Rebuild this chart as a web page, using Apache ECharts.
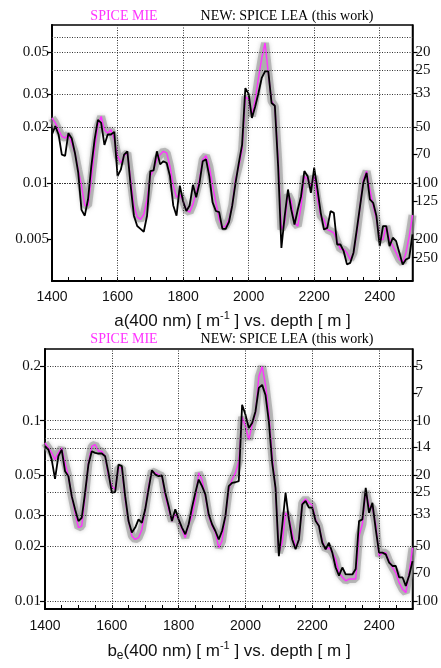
<!DOCTYPE html>
<html>
<head>
<meta charset="utf-8">
<script src="https://cdn.jsdelivr.net/npm/echarts@6/dist/echarts.min.js"></script>
<style>
  html, body { margin: 0; padding: 0; background: #fff; }
  #chart { width: 441px; height: 668px; }
</style>
</head>
<body>
<div id="chart"></div>
<script>
// depth samples [m]
const depth = [
  1400, 1410, 1420, 1430, 1440, 1450, 1460, 1470, 1480, 1490,
  1500, 1510, 1520, 1530, 1540, 1550, 1560, 1570, 1580, 1590,
  1600, 1610, 1620, 1630, 1640, 1650, 1660, 1670, 1680, 1690,
  1700, 1710, 1720, 1730, 1740, 1750, 1760, 1770, 1780, 1790,
  1800, 1810, 1820, 1830, 1840, 1850, 1860, 1870, 1880, 1890,
  1900, 1910, 1920, 1930, 1940, 1950, 1960, 1970, 1980, 1990,
  2000, 2010, 2020, 2030, 2040, 2050, 2060, 2070, 2080, 2090,
  2100, 2110, 2120, 2130, 2140, 2150, 2160, 2170, 2180, 2190,
  2200, 2210, 2220, 2230, 2240, 2250, 2260, 2270, 2280, 2290,
  2300, 2310, 2320, 2330, 2340, 2350, 2360, 2370, 2380, 2390,
  2400, 2410, 2420, 2430, 2440, 2450, 2460, 2470, 2480, 2490,
  2500
]

// a(400 nm) [1/m]
const absMie = [
  0.0223, 0.0210, 0.0193, 0.0178, 0.0174, 0.0183, 0.0164, 0.0145, 0.0118, 0.0097,
  0.0076, 0.0076, 0.0105, 0.0151, 0.0202, 0.0227, 0.0193, 0.0185, 0.0193, 0.0171,
  0.0140, 0.0128, 0.0140, 0.0145, 0.0105, 0.0076, 0.0066, 0.0064, 0.0068, 0.0082,
  0.0109, 0.0118, 0.0134, 0.0142, 0.0148, 0.0145, 0.0123, 0.0097, 0.0084, 0.0087,
  0.0080, 0.0072, 0.0070, 0.0077, 0.0089, 0.0105, 0.0134, 0.0140, 0.0123, 0.0097,
  0.0079, 0.0064, 0.0058, 0.0059, 0.0064, 0.0076, 0.0105, 0.0123, 0.0150, 0.0290,
  0.0280, 0.0228, 0.0279, 0.0365, 0.0466, 0.0561, 0.0388, 0.0274, 0.0257, 0.0134,
  0.00565, 0.00614, 0.0087, 0.0080, 0.00614, 0.00589, 0.00753, 0.0109, 0.01045, 0.00964,
  0.0109, 0.00818, 0.00667, 0.0064, 0.00565, 0.00554, 0.00543, 0.0049, 0.00443, 0.00443,
  0.00425, 0.00391, 0.00425, 0.00543, 0.00753, 0.01045, 0.0116, 0.00925, 0.00753, 0.0064,
  0.0050, 0.0050, 0.00589, 0.0050, 0.00461, 0.00425, 0.00391, 0.00375, 0.00425, 0.0052,
  0.00674
]
const absLea = [
  0.0182, 0.0202, 0.0182, 0.0142, 0.0140, 0.0185, 0.0174, 0.0145, 0.0114, 0.0072,
  0.0067, 0.0082, 0.0123, 0.0171, 0.0218, 0.0210, 0.0160, 0.0182, 0.0182, 0.0188,
  0.0109, 0.0118, 0.0142, 0.0148, 0.0097, 0.0067, 0.0059, 0.0057, 0.0055, 0.0067,
  0.0116, 0.0117, 0.0148, 0.0126, 0.0131, 0.0128, 0.0109, 0.0076, 0.0067, 0.0097,
  0.0080, 0.0071, 0.0076, 0.0098, 0.0084, 0.0100, 0.0131, 0.0134, 0.0109, 0.0079,
  0.0071, 0.0070, 0.0057, 0.0057, 0.0062, 0.0076, 0.0100, 0.0128, 0.0160, 0.0322,
  0.0300, 0.0223, 0.0257, 0.0303, 0.0365, 0.0396, 0.0396, 0.0268, 0.0259, 0.0123,
  0.00451, 0.00667, 0.00925, 0.00723, 0.00601, 0.00723, 0.00852, 0.0116, 0.0109, 0.00888,
  0.0121, 0.00925, 0.00694, 0.00565, 0.00577, 0.00709, 0.00694, 0.0047, 0.0047, 0.00433,
  0.00368, 0.00375, 0.00425, 0.00565, 0.00753, 0.01004, 0.01135, 0.00818, 0.00785, 0.00667,
  0.00461, 0.00589, 0.00589, 0.00461, 0.00511, 0.0049, 0.00425, 0.00368, 0.00391, 0.00399,
  0.00532
]

// b_e(400 nm) [1/m]
const scatMie = [
  0.0752, 0.0706, 0.0662, 0.0608, 0.0662, 0.0706, 0.0583, 0.0492, 0.0381, 0.0308,
  0.0255, 0.0260, 0.0381, 0.0583, 0.0721, 0.0737, 0.0676, 0.0676, 0.0635, 0.0492,
  0.0433, 0.0415, 0.0547, 0.0547, 0.0365, 0.0277, 0.0229, 0.0219, 0.0224, 0.0249,
  0.0322, 0.0433, 0.0524, 0.0513, 0.0502, 0.0492, 0.0381, 0.0322, 0.0277, 0.0302,
  0.0283, 0.0249, 0.0224, 0.0266, 0.0295, 0.0365, 0.0513, 0.0471, 0.0381, 0.0295,
  0.0260, 0.0239, 0.0197, 0.0215, 0.0295, 0.0415, 0.0471, 0.0513, 0.0595, 0.105,
  0.093, 0.0785, 0.0950, 0.1103, 0.176, 0.200, 0.158, 0.1103, 0.0635, 0.0415,
  0.0185, 0.0210, 0.0308, 0.0289, 0.0239, 0.0197, 0.0219, 0.0350, 0.0368, 0.0350,
  0.0340, 0.0283, 0.0260, 0.0215, 0.0193, 0.0197, 0.0185, 0.0170, 0.0143, 0.0135,
  0.0129, 0.0132, 0.0132, 0.0132, 0.0229, 0.0266, 0.0406, 0.0336, 0.0329, 0.0266,
  0.0177, 0.0185, 0.0185, 0.0166, 0.0153, 0.0143, 0.0126, 0.0116, 0.0111, 0.0143,
  0.0197
]
const scatLea = [
  0.0721, 0.0691, 0.0608, 0.0475, 0.0635, 0.0691, 0.0524, 0.0492, 0.0381, 0.0322,
  0.0277, 0.0289, 0.0398, 0.0571, 0.0676, 0.0662, 0.0657, 0.0657, 0.0635, 0.0513,
  0.0398, 0.0401, 0.0571, 0.0559, 0.0381, 0.0277, 0.0239, 0.0255, 0.0283, 0.0271,
  0.0322, 0.0415, 0.0531, 0.0502, 0.0492, 0.0496, 0.0398, 0.0336, 0.0277, 0.0322,
  0.0283, 0.0255, 0.0234, 0.0266, 0.0329, 0.0398, 0.0471, 0.0433, 0.0390, 0.0302,
  0.0266, 0.0244, 0.0219, 0.0244, 0.0295, 0.0433, 0.0452, 0.0455, 0.0461, 0.1226,
  0.108, 0.0911, 0.0971, 0.1126, 0.152, 0.158, 0.139, 0.0992, 0.0583, 0.0424,
  0.0177, 0.0260, 0.0398, 0.0283, 0.0219, 0.0193, 0.0219, 0.0343, 0.0358, 0.0329,
  0.0329, 0.0277, 0.0260, 0.0210, 0.0193, 0.0210, 0.0185, 0.0153, 0.0138, 0.0153,
  0.0140, 0.0140, 0.0140, 0.0150, 0.0277, 0.0283, 0.0424, 0.0308, 0.0350, 0.0249,
  0.0185, 0.0185, 0.0181, 0.0163, 0.0156, 0.0156, 0.0135, 0.0135, 0.0121, 0.0138,
  0.0166
]

// axis ticks / labels
const depthLabels = [1400, 1600, 1800, 2000, 2200, 2400]
const depthTicks = [1400, 1450, 1500, 1550, 1600, 1650, 1700, 1750, 1800, 1850, 1900, 1950,
  2000, 2050, 2100, 2150, 2200, 2250, 2300, 2350, 2400, 2450, 2500]
const depthGrid = [1600, 1800, 2000, 2200, 2400]

const absLabels = [0.05, 0.03, 0.02, 0.01, 0.005]
const absGrid = [0.06, 0.05, 0.04, 0.03, 0.02, 0.01, 0.009, 0.008, 0.007, 0.006, 0.005, 0.004]
const absLengths = [20, 25, 33, 50, 70, 100, 125, 200, 250]

const scatLabels = [0.2, 0.1, 0.05, 0.03, 0.02, 0.01]
const scatGrid = [0.2, 0.1, 0.09, 0.08, 0.07, 0.06, 0.05, 0.04, 0.03, 0.02, 0.01]
const scatLengths = [5, 7, 10, 14, 20, 25, 33, 50, 70, 100]

const SERIF = "'Liberation Serif', 'DejaVu Serif', serif"
const SANS = "'Liberation Sans', Arial, sans-serif"
const MAGENTA = '#ff33ff'

const chart = echarts.init(document.getElementById('chart'), null, { renderer: 'canvas' })

function pairs(vals) {
  return depth.map((d, i) => [d, vals[i]])
}

function xAxisFor(gridIndex, margin) {
  return {
    type: 'value',
    gridIndex,
    min: 1400,
    max: 2500,
    axisLine: { show: true, lineStyle: { color: '#000', width: 2 } },
    axisTick: { show: true, inside: true, length: 4, customValues: depthTicks, lineStyle: { color: '#000', width: 1 } },
    axisLabel: { customValues: depthLabels, margin, color: '#111', fontSize: 14, fontFamily: SANS, formatter: v => String(v) },
    splitLine: { show: false },
  }
}

function yLeft(gridIndex, min, max, labels, margin) {
  return {
    type: 'log',
    logBase: 10,
    gridIndex,
    position: 'left',
    min,
    max,
    axisLine: { show: true, lineStyle: { color: '#000', width: 2 } },
    axisTick: { show: true, length: 5, customValues: labels, lineStyle: { color: '#000', width: 1.2 } },
    axisLabel: { customValues: labels, margin, color: '#111', fontSize: 15, fontFamily: SERIF, formatter: v => String(v) },
    splitLine: { show: false },
  }
}

function yRight(gridIndex, min, max, lengths) {
  const vals = lengths.map(l => 1 / l)
  return {
    type: 'log',
    logBase: 10,
    gridIndex,
    position: 'right',
    min,
    max,
    axisLine: { show: true, lineStyle: { color: '#000', width: 1.5 } },
    axisTick: { show: true, length: 5, customValues: vals, lineStyle: { color: '#000', width: 1.2 } },
    axisLabel: { customValues: vals, margin: 3, color: '#111', fontSize: 15, fontFamily: SERIF, formatter: v => String(Math.round(1 / v)) },
    splitLine: { show: false },
  }
}

function gridLines(yVals) {
  return {
    silent: true,
    symbol: ['none', 'none'],
    animation: false,
    label: { show: false },
    lineStyle: { color: '#333', width: 1, type: [1, 1.5] },
    emphasis: { disabled: true },
    data: yVals.map(v => ({ yAxis: v })).concat(depthGrid.map(d => ({ xAxis: d }))),
  }
}

function panelSeries(axisIdx, mie, lea, hlines) {
  return [
    {
      name: 'band',
      type: 'line',
      xAxisIndex: axisIdx.x,
      yAxisIndex: axisIdx.y,
      data: pairs(mie),
      showSymbol: false,
      symbol: 'none',
      silent: true,
      lineStyle: { color: 'rgba(145,145,145,0.55)', width: 8, shadowBlur: 4, shadowColor: 'rgba(150,150,150,0.8)' },
      markLine: gridLines(hlines),
      z: 1,
    },
    {
      name: 'SPICE MIE',
      type: 'line',
      xAxisIndex: axisIdx.x,
      yAxisIndex: axisIdx.y,
      data: pairs(mie),
      showSymbol: false,
      symbol: 'none',
      lineStyle: { color: MAGENTA, width: 1.4 },
      z: 2,
    },
    {
      name: 'NEW: SPICE LEA (this work)',
      type: 'line',
      xAxisIndex: axisIdx.x,
      yAxisIndex: axisIdx.y,
      data: pairs(lea),
      showSymbol: false,
      symbol: 'none',
      lineStyle: { color: '#000', width: 1.8 },
      z: 3,
    },
  ]
}

function headerText(y) {
  return [
    { type: 'text', style: { x: 124, y, text: 'SPICE MIE', fill: MAGENTA, font: `14px ${SERIF}`, textAlign: 'center', textVerticalAlign: 'middle' } },
    { type: 'text', style: { x: 287, y, text: 'NEW: SPICE LEA (this work)', fill: '#000', font: `14px ${SERIF}`, textAlign: 'center', textVerticalAlign: 'middle' } },
  ]
}

const richAxis = {
  n: { fontSize: 17, fontFamily: SANS, lineHeight: 22, fill: '#111' },
  sup: { fontSize: 11, fontFamily: SANS, lineHeight: 12, verticalAlign: 'top', fill: '#111' },
  sub: { fontSize: 12, fontFamily: SANS, lineHeight: 12, verticalAlign: 'bottom', fill: '#111' },
}

chart.setOption({
  animation: false,
  backgroundColor: '#fff',
  grid: [
    { left: 52, top: 25, width: 361.5, height: 256, show: true, borderColor: '#000', borderWidth: 1.5, backgroundColor: 'transparent' },
    { left: 45, top: 349, width: 368, height: 260, show: true, borderColor: '#000', borderWidth: 1.5, backgroundColor: 'transparent' },
  ],
  xAxis: [xAxisFor(0, 9), xAxisFor(1, 10)],
  yAxis: [
    yLeft(0, 0.003, 0.07, absLabels, 3),
    yRight(0, 0.003, 0.07, absLengths),
    yLeft(1, 0.009, 0.25, scatLabels, 4),
    yRight(1, 0.009, 0.25, scatLengths),
  ],
  series: [
    ...panelSeries({ x: 0, y: 0 }, absMie, absLea, absGrid),
    ...panelSeries({ x: 1, y: 2 }, scatMie, scatLea, scatGrid),
  ],
  graphic: [
    ...headerText(16),
    ...headerText(339.5),
    {
      type: 'text',
      style: {
        x: 232.5, y: 321, textAlign: 'center', textVerticalAlign: 'middle',
        text: '{n|a(400 nm) [ m}{sup|-1}{n| ] vs. depth [ m ]}',
        rich: richAxis,
      },
    },
    {
      type: 'text',
      style: {
        x: 229, y: 651, textAlign: 'center', textVerticalAlign: 'middle',
        text: '{n|b}{sub|e}{n|(400 nm) [ m}{sup|-1}{n| ] vs. depth [ m ]}',
        rich: richAxis,
      },
    },
  ],
})
</script>
</body>
</html>
